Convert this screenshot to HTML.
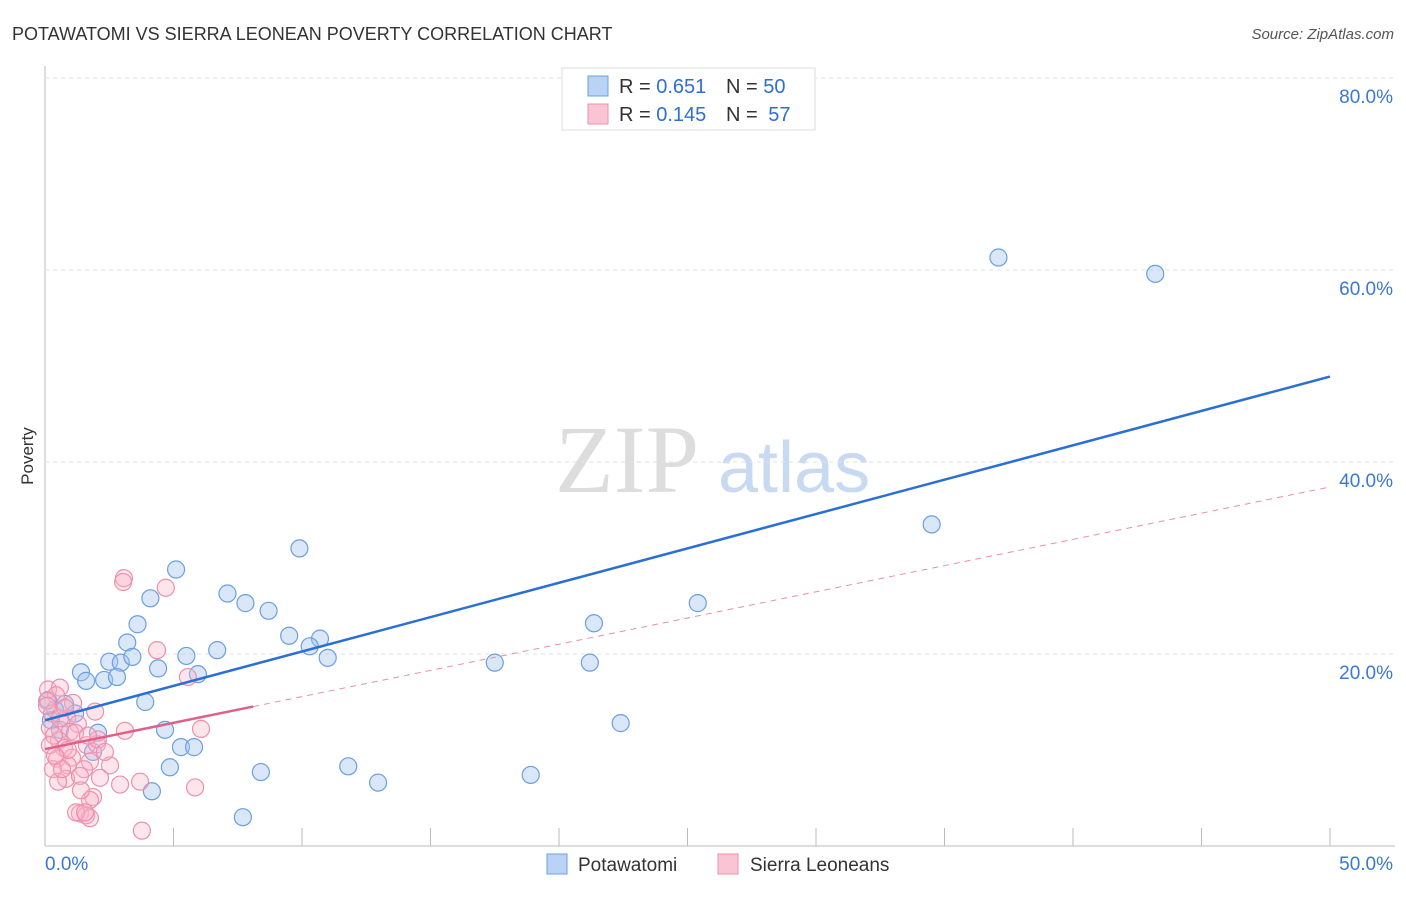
<!DOCTYPE html>
<html><head><meta charset="utf-8"><style>
body{margin:0;background:#fff;font-family:"Liberation Sans",sans-serif}
#c{position:relative;width:1406px;height:892px}
</style></head><body>
<div id="c">
<svg id="s" width="1406" height="892" xmlns="http://www.w3.org/2000/svg">
<text x="12" y="40" font-size="18" fill="#333">POTAWATOMI VS SIERRA LEONEAN POVERTY CORRELATION CHART</text>
<text x="1394" y="39" font-size="15" fill="#555" font-style="italic" text-anchor="end">Source: ZipAtlas.com</text>
<text x="33" y="456" font-size="17" fill="#333" transform="rotate(-90 33 456)" text-anchor="middle">Poverty</text>
<text x="555" y="492" font-size="96" fill="#ddd" font-family="Liberation Serif">ZIP</text>
<text x="718" y="492" font-size="72" fill="#c8daf2">atlas</text>
<g id="grid"></g><g id="pts"></g><g id="lines"></g>
<g>
<rect x="562" y="68" width="253" height="62" fill="#fff" stroke="#ddd"/>
<rect x="588" y="76" width="20" height="20" fill="#b8d3f5" stroke="#6a9fe0"/>
<rect x="588" y="104" width="20" height="20" fill="#f9c4d4" stroke="#ee90ad"/>
<text x="619" y="93" font-size="20" fill="#333">R = <tspan fill="#2f6fd0">0.651</tspan></text>
<text x="726" y="93" font-size="20" fill="#333">N = <tspan fill="#2f6fd0">50</tspan></text>
<text x="619" y="121" font-size="20" fill="#333">R = <tspan fill="#2f6fd0">0.145</tspan></text>
<text x="726" y="121" font-size="20" fill="#333">N = <tspan fill="#2f6fd0" dx="5">57</tspan></text>
</g>
<g>
<rect x="547" y="854" width="20" height="20" fill="#b8d3f5" stroke="#6a9fe0"/>
<text x="578" y="871" font-size="19" fill="#333">Potawatomi</text>
<rect x="718" y="854" width="20" height="20" fill="#f9c4d4" stroke="#ee90ad"/>
<text x="750" y="871" font-size="19" fill="#333">Sierra Leoneans</text>
</g>
</svg></div>
<script>
const xTicks=[0,5,10,15,20,25,30,35,40,45,50];
const yTicks=[20,40,60,80];
const yTickLabels=["20.0%","40.0%","60.0%","80.0%"];
const blueX=[9.9,5.1,4.1,7.1,7.8,8.7,3.6,3.2,2.5,2.95,3.4,1.4,1.6,2.3,2.8,4.4,5.5,6.7,5.95,9.5,10.7,10.3,11.0,3.9,0.78,1.17,0.39,0.23,0.58,2.06,4.67,5.29,5.8,1.87,4.86,4.16,7.7,8.4,11.8,12.96,17.5,18.9,21.2,21.36,22.4,25.4,34.5,37.1,43.2,0.12];
const blueY=[31.0,28.8,25.8,26.3,25.3,24.5,23.1,21.2,19.2,19.1,19.7,18.1,17.2,17.3,17.6,18.5,19.8,20.4,17.9,21.9,21.6,20.8,19.6,15.0,14.8,13.8,14.2,13.1,12.1,11.8,12.1,10.3,10.3,9.8,8.2,5.7,3.0,7.7,8.3,6.6,19.1,7.4,19.1,23.2,12.8,25.3,33.5,61.3,59.6,15.2];
const pinkX=[3.07,3.04,4.7,4.36,5.56,6.07,3.11,0.12,0.58,0.43,0.08,0.27,0.86,1.28,0.19,0.97,0.54,0.74,1.63,2.02,1.05,0.47,1.75,2.53,0.89,1.52,0.31,2.14,0.82,1.36,0.51,2.92,3.7,5.84,1.87,1.75,1.36,1.6,1.75,1.21,3.77,1.56,0.58,1.09,0.35,0.66,2.06,1.17,0.19,2.33,0.89,1.67,0.08,0.39,0.78,1.4,1.95];
const pinkY=[27.9,27.5,26.9,20.4,17.6,12.2,12.0,16.3,16.5,15.7,15.1,13.8,13.3,12.7,12.3,11.9,11.0,10.2,10.5,10.6,9.2,9.1,8.8,8.4,8.4,8.0,8.0,7.1,7.0,7.3,6.7,6.4,6.7,6.1,5.1,4.8,3.4,3.2,2.9,3.5,1.6,3.5,13.3,14.9,11.5,8.0,11.1,11.8,10.5,9.8,10.0,11.5,14.6,9.4,14.4,5.8,14.0];
const blueLine=[13.1,48.9];
const pinkLine=[10.1,37.4];
const pinkSolidEnd=8.1;
const X=v=>45+v/50*1285, Y=v=>846-v*9.6;
const NS="http://www.w3.org/2000/svg";
function mk(t,a,p){const e=document.createElementNS(NS,t);for(const k in a)e.setAttribute(k,a[k]);p.appendChild(e);return e;}
const g=document.getElementById('grid');
const ax=mk('line',{x1:45,y1:66,x2:45,y2:846,stroke:'#bbb'},g);


const bx=mk('line',{x1:45,y1:846,x2:1395,y2:846,stroke:'#bbb'},g);


yTicks.forEach((t,i)=>{
 const l=mk('line',{x1:45,y1:Y(t),x2:1395,y2:Y(t),stroke:'#e2e2e2','stroke-dasharray':'4,4'},g);
 
 
 const tx=mk('text',{x:1393,y:Y(t)+25,'font-size':19,fill:'#3a78d4','text-anchor':'end'},g);
 tx.textContent=yTickLabels[i];
 
 
});
xTicks.forEach(t=>{
 const l=mk('line',{x1:X(t),y1:828,x2:X(t),y2:846,stroke:'#bbb'},g);
 
 
});
[[0,'0.0%','start',45],[50,'50.0%','end',1393]].forEach(a=>{
 const tx=mk('text',{x:a[3],y:870,'font-size':19,fill:'#3a78d4','text-anchor':a[2]},g);
 tx.textContent=a[1];
 
 
});
const p=document.getElementById('pts');
blueX.forEach((x,i)=>{
 const c=mk('circle',{cx:X(x),cy:Y(blueY[i]),r:8.5,fill:'rgba(160,196,240,0.4)',stroke:'#6a9fe0','stroke-width':1.2},p);
 
 
});
pinkX.forEach((x,i)=>{
 const c=mk('circle',{cx:X(x),cy:Y(pinkY[i]),r:8.5,fill:'rgba(248,180,200,0.35)',stroke:'#ee90ad','stroke-width':1.2},p);
 
 
});
const L=document.getElementById('lines');
const pf=x=>pinkLine[0]+(pinkLine[1]-pinkLine[0])*x/50;
const b=mk('line',{x1:X(0),y1:Y(blueLine[0]),x2:X(50),y2:Y(blueLine[1]),stroke:'#2a6fd6','stroke-width':2.5},L);


const pd=mk('line',{x1:X(pinkSolidEnd),y1:Y(pf(pinkSolidEnd)),x2:X(50),y2:Y(pinkLine[1]),stroke:'#e790a8','stroke-width':1,'stroke-dasharray':'6,5'},L);


const ps=mk('line',{x1:X(0),y1:Y(pinkLine[0]),x2:X(pinkSolidEnd),y2:Y(pf(pinkSolidEnd)),stroke:'#e0608a','stroke-width':2.5},L);


</script>
</body></html>
